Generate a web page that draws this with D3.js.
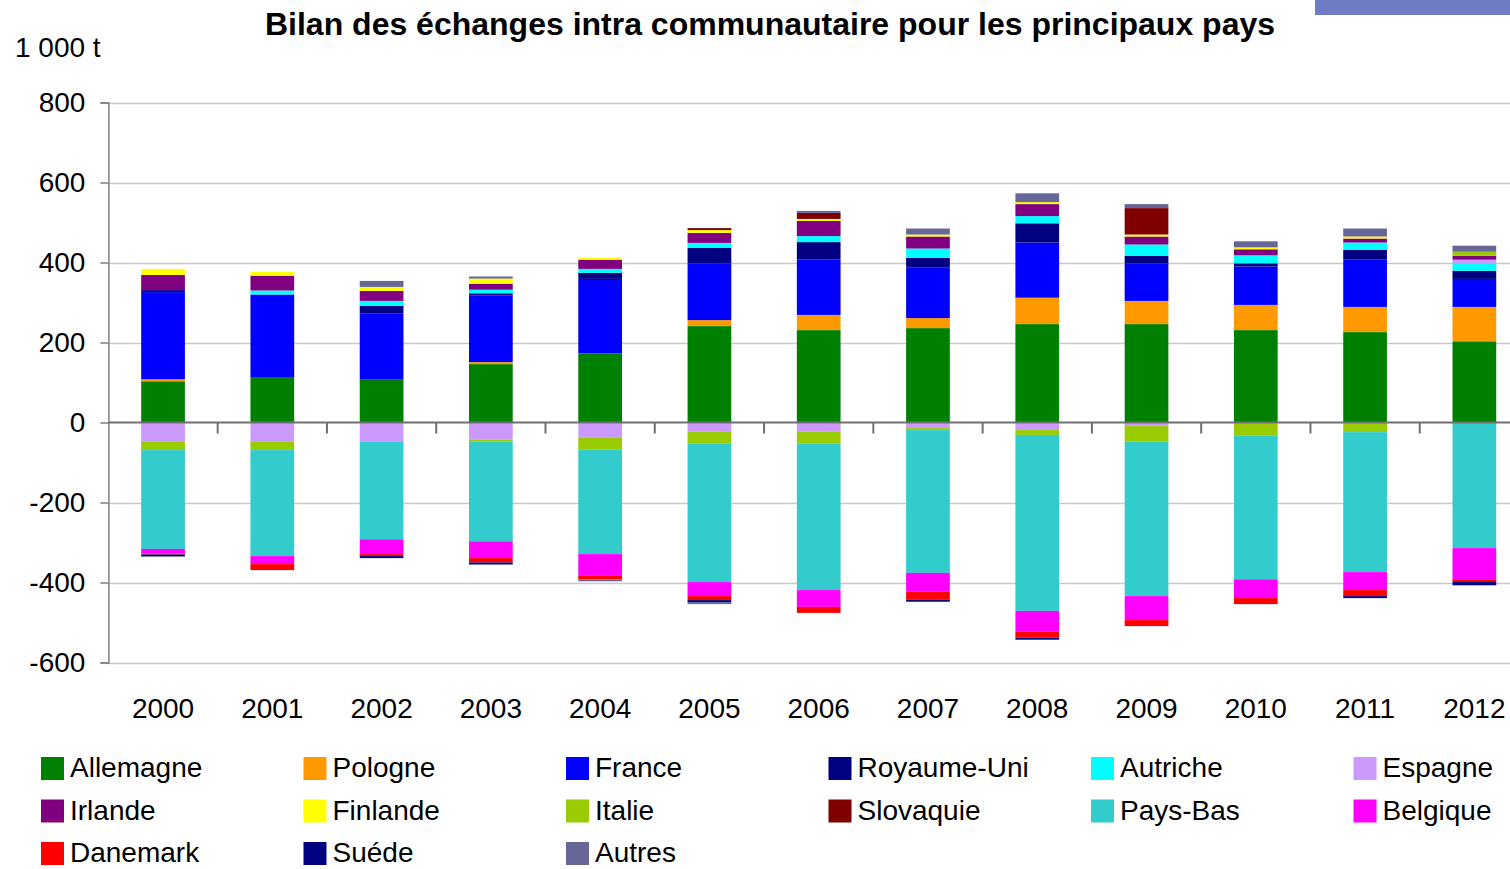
<!DOCTYPE html>
<html>
<head>
<meta charset="utf-8">
<script src="https://cdn.jsdelivr.net/npm/d3@7"></script>
<style>
  body { margin: 0; background: #fff; }
  svg { display: block; font-family: "Liberation Sans", Arial, sans-serif; }
</style>
</head>
<body>
<script>
// years on the x axis
var years = ["2000", "2001", "2002", "2003", "2004", "2005", "2006", "2007", "2008", "2009", "2010", "2011", "2012"];

// series, in 1 000 t (positive = net exports, negative = net imports)
var allemagne  = [103, 112, 107, 146, 173, 241, 231, 236, 246, 246, 231, 226, 203];
var pologne    = [5, 0, 0, 5, 0, 15, 38, 25, 66, 58, 63, 63, 86];
var france     = [218, 208, 165, 167, 186, 141, 139, 126, 138, 93, 96, 118, 70];
var royaumeUni = [5, 0, 20, 5, 15, 40, 43, 25, 48, 20, 8, 25, 20];
var autriche   = [0, 10, 12, 9, 10, 12, 15, 23, 18, 28, 20, 18, 20];
var espagne    = [-47, -47, -47, -42, -37, -22, -22, -14, -19, -9, 0, 0, 8];
var irlande    = [38, 37, 25, 15, 23, 25, 38, 30, 30, 20, 15, 10, 10];
var finlande   = [15, 10, 10, 13, 5, 7, 5, 5, 5, 5, 5, 5, 0];
var italie     = [-22, -22, 0, -5, -30, -30, -30, -5, -12, -38, -32, -24, 10];
var slovaquie  = [0, 0, 0, 0, 0, 5, 15, 0, 0, 66, 0, 0, 0];
var paysBas    = [-247, -265, -245, -250, -262, -347, -367, -357, -440, -387, -360, -350, -314];
var belgique   = [-12, -20, -37, -42, -53, -35, -42, -47, -52, -60, -47, -45, -78];
var danemark   = [-2, -15, -5, -11, -10, -10, -15, -20, -15, -15, -15, -15, -5];
var suede      = [-5, 0, -5, -5, 0, -5, 0, -5, -5, 0, 0, -5, -10];
var autres     = [0, 0, 15, 5, -5, -5, 5, 15, 22, 10, 15, 20, 15];

var seriesNames = ["Allemagne", "Pologne", "France", "Royaume-Uni", "Autriche", "Espagne",
                   "Irlande", "Finlande", "Italie", "Slovaquie", "Pays-Bas", "Belgique",
                   "Danemark", "Suéde", "Autres"];
var seriesValues = [allemagne, pologne, france, royaumeUni, autriche, espagne,
                    irlande, finlande, italie, slovaquie, paysBas, belgique,
                    danemark, suede, autres];
var yTicks = [-600, -400, -200, 0, 200, 400, 600, 800];

var colors = ["#008000", "#ff9900", "#0000ff", "#000080", "#00ffff", "#cc99ff",
              "#800080", "#ffff00", "#99cc00", "#800000", "#33cccc", "#ff00ff",
              "#ff0000", "#000080", "#666699"];

var width = 1510, height = 869;
var plot = {left: 108.4, right: 1529, top: 102.5, bottom: 662.5};

// table for d3.stack
var table = years.map(function(y, i) {
  var row = {year: y};
  seriesNames.forEach(function(n, k) { row[n] = seriesValues[k][i]; });
  return row;
});

var stack = d3.stack()
  .keys(seriesNames)
  .offset(d3.stackOffsetDiverging);
var layers = stack(table);

var x = d3.scaleBand()
  .domain(years)
  .range([plot.left, plot.right])
  .paddingInner(0.6)
  .paddingOuter(0.3);

var y = d3.scaleLinear()
  .domain([-600, 800])
  .range([plot.bottom, plot.top]);

var color = d3.scaleOrdinal().domain(seriesNames).range(colors);

var svg = d3.select("body").append("svg")
  .attr("width", width)
  .attr("height", height);

// corner band
svg.append("rect")
  .attr("x", 1315).attr("y", 0)
  .attr("width", 195).attr("height", 15)
  .attr("fill", "#6f7bc4");

// title
svg.append("text")
  .attr("x", 770)
  .attr("y", 35)
  .attr("text-anchor", "middle")
  .style("font-size", "32px")
  .style("font-weight", "bold")
  .text("Bilan des échanges intra communautaire pour les principaux pays");

svg.append("text")
  .attr("x", 15)
  .attr("y", 57)
  .style("font-size", "28px")
  .text("1 000 t");

// gridlines
svg.append("g")
  .selectAll("line")
  .data(yTicks.filter(function(d) { return d !== 0; }))
  .enter().append("line")
    .attr("x1", plot.left)
    .attr("x2", plot.right)
    .attr("y1", function(d) { return Math.round(y(d)) + 0.5; })
    .attr("y2", function(d) { return Math.round(y(d)) + 0.5; })
    .attr("stroke", "#c8c8c8")
    .attr("stroke-width", 1.5);

// y axis
var yAxis = d3.axisLeft(y)
  .tickValues(yTicks)
  .tickFormat(function(d) { return String(d); })
  .tickSize(8)
  .tickPadding(15);

var gy = svg.append("g")
  .attr("transform", "translate(" + plot.left + ",0)")
  .call(yAxis);
gy.select(".domain").attr("stroke", "#808080").attr("stroke-width", 1.5);
gy.selectAll(".tick line").attr("stroke", "#808080").attr("stroke-width", 1.5);
gy.selectAll(".tick text")
  .style("font-size", "28px")
  .style("font-family", "'Liberation Sans', Arial, sans-serif")
  .attr("fill", "#000");

// bars
var layer = svg.selectAll(".layer")
  .data(layers)
  .enter().append("g")
    .attr("class", "layer")
    .attr("fill", function(d) { return color(d.key); });

layer.selectAll("rect")
  .data(function(d) { return d; })
  .enter().append("rect")
    .attr("x", function(d) { return x(d.data.year); })
    .attr("width", x.bandwidth())
    .attr("y", function(d) { return y(Math.max(d[0], d[1])); })
    .attr("height", function(d) { return Math.abs(y(d[0]) - y(d[1])); });

// x axis along zero, ticks between categories
var gap = (x.step() - x.bandwidth()) / 2;
var gx = svg.append("g")
  .attr("transform", "translate(0," + y(0) + ")");
gx.append("line")
  .attr("x1", plot.left).attr("x2", plot.right)
  .attr("stroke", "#707070").attr("stroke-width", 2);
gx.selectAll(".xtick")
  .data(years.slice(1))
  .enter().append("line")
    .attr("class", "xtick")
    .attr("x1", function(d) { return x(d) - gap; })
    .attr("x2", function(d) { return x(d) - gap; })
    .attr("y1", 0).attr("y2", 11)
    .attr("stroke", "#707070").attr("stroke-width", 2);

svg.append("g")
  .selectAll("text")
  .data(years)
  .enter().append("text")
    .attr("x", function(d) { return x(d) + x.bandwidth() / 2; })
    .attr("y", 718)
    .attr("text-anchor", "middle")
    .style("font-size", "28px")
    .text(function(d) { return d; });

// legend
var legend = svg.selectAll(".legend")
  .data(seriesNames)
  .enter().append("g")
    .attr("class", "legend")
    .attr("transform", function(d, i) {
      return "translate(" + (41 + (i % 6) * 262.5) + "," + (757 + Math.floor(i / 6) * 42.5) + ")";
    });

legend.append("rect")
  .attr("width", 23)
  .attr("height", 23)
  .attr("fill", color);

legend.append("text")
  .attr("x", 29)
  .attr("y", 20)
  .style("font-size", "28px")
  .text(function(d) { return d; });
</script>
</body>
</html>
